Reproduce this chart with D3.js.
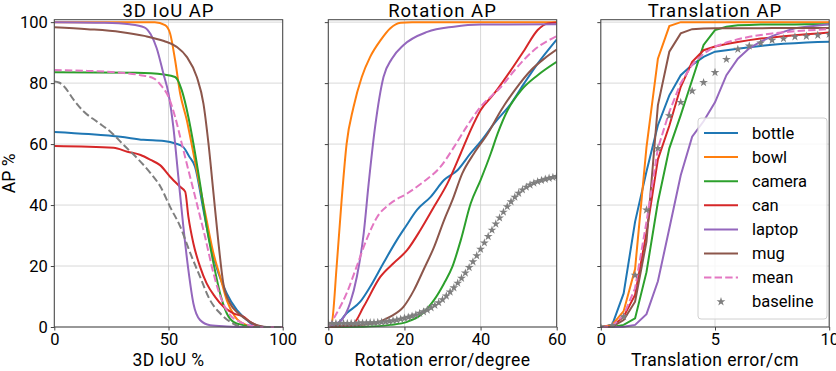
<!DOCTYPE html>
<html>
<head>
<meta charset="utf-8">
<script src="https://cdn.jsdelivr.net/npm/d3@7"></script>
<style>
  body { margin: 0; background: #fff; }
  text { font-family: Roboto, "DejaVu Sans", sans-serif; fill: #000; }
</style>
</head>
<body>
<script>
// ---- data ----
const categories = ['bottle', 'bowl', 'camera', 'can', 'laptop', 'mug', 'mean', 'baseline']
const colors = ['#1f77b4', '#ff7f0e', '#2ca02c', '#d62728', '#9467bd', '#8c564b', '#e377c2', '#7f7f7f']

const yTicks = [0, 20, 40, 60, 80, 100]
const iouTicks = [0, 50, 100]
const rotTicks = [0, 20, 40, 60]
const transTicks = [0, 5, 10]

// 3D IoU AP, [iou %, AP %]
const iouBottle = [[0,64],[15,63.3],[29,62.4],[39,61.4],[48,61],[53,60.2],[56.5,59],[59,56],[61.6,52.6],[65.3,38.4],[68.2,27.4],[71.9,17.6],[75.5,11],[79.9,5.6],[84.3,2.3],[87.2,0.6],[92,0],[100,0]]
const iouBowl = [[0,100],[44,100],[48.5,99],[50.7,96.3],[52.9,87.5],[55.1,76.6],[58,67.9],[60.9,57],[63.8,46],[66.7,35],[69.7,24.1],[72.6,16.5],[75.5,8.8],[79.1,3.4],[84.3,0.6],[88.6,0.1],[92,0],[100,0]]
const iouCamera = [[0,83.6],[36,83.4],[48,82.8],[52.9,82],[55.8,77.7],[58.7,68.9],[60.9,60.2],[63.8,47.1],[66.7,32.9],[69.7,20.9],[72.6,11],[75.5,4.5],[78.4,1.7],[82.8,0.6],[87,0],[100,0]]
const iouCan = [[0,59.4],[26,58.8],[32,57.5],[37.8,56.4],[42.2,54.8],[46.3,53.1],[50.7,49.3],[55.1,46],[57.3,44.4],[58.7,36.2],[60.9,27.4],[63.8,19.8],[66.7,14.3],[70.4,9.9],[74,6.7],[78.4,4.5],[82.8,3.4],[85.7,1.7],[88.6,0.6],[91.6,0],[100,0]]
const iouLaptop = [[0,100],[22,99.8],[33,99.3],[39.4,98.3],[42.2,96],[44.8,91.5],[47.8,83],[50,76.6],[52.1,65.7],[54.3,49.3],[56.5,32.9],[58.7,18.7],[60.9,7.7],[63.8,2.3],[68.2,0.6],[75.5,0.2],[85,0],[100,0]]
const iouMug = [[0,98.3],[14.5,97.7],[29,96.8],[39.4,95.5],[48,93.8],[53.6,91.9],[58,88.6],[62.4,82],[65.3,73.3],[67.5,60.2],[69.7,43.8],[71.9,27.4],[74,14.3],[77,7.7],[80.6,4.5],[85.7,1.7],[90.1,0.3],[93,0],[100,0]]
const iouMean = [[0,84.3],[14.5,84],[29,83.4],[37.8,82.6],[43.7,81.5],[47,79],[50,75.5],[52.9,68.9],[55.8,60.2],[58.7,51.5],[62.4,40.5],[66,29.6],[69.7,17.6],[73.3,8.8],[77,3.9],[81.3,1.7],[87.2,0.3],[91,0],[100,0]]
const iouBaseline = [[0,80.5],[2,80.2],[4.2,79],[8.6,74.4],[13,70.6],[18.8,67.3],[24.7,64],[30.5,59.6],[36.4,55.3],[42.2,50.4],[46.5,46],[50.7,39.4],[55.1,33],[59.4,24.5],[63.8,16.5],[68.2,8.8],[72.6,4.5],[77,1.7],[80.6,0.3],[84,0],[100,0]]

// Rotation AP, [degree, AP %]
const rotBottle = [[0,0],[2,0.6],[4.8,4.5],[8.4,8.3],[11,13.2],[14.5,21],[18,28.5],[20.3,32.9],[23.3,38.4],[26.9,42.7],[30.4,48.2],[34,51.5],[37.4,57],[40,60.8],[43.6,66.8],[48,73.3],[51.5,80],[55,86.4],[60,94.3]]
const rotBowl = [[0,0],[0.9,1.2],[2.2,20],[3.5,41.6],[4.8,60],[6.6,72],[8.8,82],[11,88.6],[13.7,94],[16.3,98],[19,99.8],[22,100],[60,100]]
const rotCamera = [[0,0],[9.3,0.1],[16.3,0.7],[20.7,1.7],[24.2,3.9],[27.8,8.9],[30.4,14.3],[32.6,19.8],[34.8,28.5],[37.4,40.5],[40,48.2],[42.7,57],[44.5,63.5],[47.1,71.1],[50.7,77.7],[55,82.6],[60,87]]
const rotCan = [[0,0],[3,0.3],[6.6,1.2],[9.3,6.7],[13.7,16.5],[17.2,21],[20.7,25.2],[24.2,31.8],[27.8,39.5],[31.3,47.1],[34.8,57],[37.4,64.6],[40,71.1],[43.6,76.6],[48,84.3],[51.5,90.8],[55,97.4],[57.7,99.6],[60,99.9]]
const rotLaptop = [[0,0],[1.3,0.7],[3.5,2.3],[5.7,7.8],[7.5,16.5],[9.3,30.7],[10.6,47],[12.3,65.7],[14.5,82],[16.7,88],[19.8,92.5],[26,96.8],[33,98.5],[40,99.2],[60,99.3]]
const rotMug = [[0,0],[4.8,0.3],[11.9,1.2],[16.3,3.4],[19.8,6.7],[22.5,12.1],[25,18.7],[27.8,26.3],[30.4,35],[32.6,41.6],[35.2,50.4],[38.3,57],[41.9,63.5],[45.4,71.1],[49,77.7],[53.3,84.3],[56.8,88.1],[60,91]]
const rotMean = [[0,0],[0.4,0.7],[2.2,4.5],[4.8,11],[7.5,20],[10,28.5],[12.8,36],[16.3,40.5],[20.7,43.8],[25,47.6],[29.5,52.6],[33,59],[36.6,66.2],[40,72.2],[45.4,78.8],[49,84.3],[54,90.8],[60,95.4]]
// baseline is sampled every degree (star markers)
const rotBaselineX = d3.range(0, 61)
const rotBaseline = [1.2,1.2,1.2,1.2,1.2,1.2,1.2,1.2,1.3,1.3,1.3,1.4,1.4,1.5,1.6,1.7,1.9,2.1,2.3,2.6,2.9,3.2,3.6,4.0,4.5,5.0,5.6,6.3,7.1,8.0,
  9.0,10.2,11.5,12.9,14.4,16.0,17.7,19.5,21.4,23.4,25.5,27.6,29.7,31.8,33.8,35.8,37.7,39.5,41.1,42.6,43.9,45.0,45.9,46.6,47.2,47.7,48.1,48.5,48.8,49.1,49.4]

// Translation AP, sampled every 0.5 cm
const transX = [0,0.5,1,1.5,2,2.5,3,3.5,4,4.5,5,5.5,6,6.5,7,7.5,8,8.5,9,9.5,10]
const transBottle = [0,0.7,11,34.5,51,66.2,76,82.6,86,88.6,90.3,90.8,91.3,91.8,92.2,92.6,92.9,93.1,93.3,93.5,93.6]
const transBowl = [0,0.7,5.2,19,59,88,98.7,100,100,100,100,100,100,100,100,100,100,100,100,100,100]
const transCamera = [0,0,0.7,2.8,18,41,58.6,69.5,81,92.5,97.4,98.5,99,99.1,99.2,99.2,99.2,99.2,99.3,99.3,99.3]
const transCan = [0,0.2,3.4,10.5,31,55,66,78.8,87,90.8,92,92.8,93.5,94.1,94.6,95,95.4,95.7,96,96.3,96.6]
const transLaptop = [0,0,0.1,0.7,4.2,15,32.3,49.8,62.4,67.5,73.7,82.6,88,91.4,93.6,95.4,96.8,98,98.5,98.9,99.3]
const transMug = [0,0.1,2.3,8.3,28,72.8,90.3,96.3,97.7,97.9,98,98,98,98,98,98.1,98.1,98.1,98.1,98.1,98.1]
const transMean = [0,0.3,3.9,12.7,34.5,58.6,70.6,80,86,89.7,92,93.3,94.4,95.2,95.8,96.3,96.7,97,97.3,97.5,97.7]
const transBaseline = [0,0.5,3.4,17,38.4,58.6,69.3,73.7,77.4,80.2,83.5,87.8,91.1,92.2,93.2,94.1,94.6,95.2,95.4,95.7,96]

// ---- layout ----
const W = 836, H = 371
const plotTop = 19.7, plotBottom = 327
const panelW = 228.4
const panelLeft = [54.3, 328.3, 600.8]

const svg = d3.select('body').append('svg')
  .attr('width', W)
  .attr('height', H)

const y = d3.scaleLinear().domain([0, 100.8]).range([plotBottom, plotTop])

const zip = (xs, ys) => xs.map((x, i) => [x, ys[i]])

const panels = [
  {
    title: '3D IoU AP', xlabel: '3D IoU %', domain: [0, 100], ticks: iouTicks, yLabels: true,
    curve: d3.curveMonotoneX,
    series: [iouBottle, iouBowl, iouCamera, iouCan, iouLaptop, iouMug, iouMean, iouBaseline],
    baselineStyle: 'dash'
  },
  {
    title: 'Rotation AP', xlabel: 'Rotation error/degree', domain: [0, 60], ticks: rotTicks, yLabels: false,
    curve: d3.curveMonotoneX,
    series: [rotBottle, rotBowl, rotCamera, rotCan, rotLaptop, rotMug, rotMean, zip(rotBaselineX, rotBaseline)],
    baselineStyle: 'star'
  },
  {
    title: 'Translation AP', xlabel: 'Translation error/cm', domain: [0, 10], ticks: transTicks, yLabels: false,
    curve: d3.curveLinear,
    series: [transBottle, transBowl, transCamera, transCan, transLaptop, transMug, transMean, transBaseline].map(s => zip(transX, s)),
    baselineStyle: 'star', legend: true
  }
]

const star = d3.symbol().type(d3.symbolStar).size(24)

panels.forEach((p, pi) => {
  let x0 = panelLeft[pi]
  let x = d3.scaleLinear().domain(p.domain).range([x0, x0 + panelW])
  let g = svg.append('g')

  // grid
  g.selectAll('.gx').data(p.ticks).join('line')
    .attr('x1', d => x(d)).attr('x2', d => x(d))
    .attr('y1', plotTop).attr('y2', plotBottom)
    .attr('stroke', '#cfcfcf').attr('stroke-width', 0.8)
  g.selectAll('.gy').data(yTicks).join('line')
    .attr('x1', x0).attr('x2', x0 + panelW)
    .attr('y1', d => y(d)).attr('y2', d => y(d))
    .attr('stroke', '#cfcfcf').attr('stroke-width', 0.8)

  let clipId = 'clip' + pi
  svg.append('clipPath').attr('id', clipId).append('rect')
    .attr('x', x0).attr('y', plotTop - 1).attr('width', panelW).attr('height', plotBottom - plotTop + 2)

  let plot = g.append('g').attr('clip-path', `url(#${clipId})`)
  let line = d3.line().x(d => x(d[0])).y(d => y(d[1])).curve(p.curve)

  p.series.forEach((s, si) => {
    let isBase = si === 7
    if (isBase && p.baselineStyle === 'star') {
      plot.selectAll('.star' + si).data(s).join('path')
        .attr('d', star)
        .attr('transform', d => `translate(${x(d[0])},${y(d[1])})`)
        .attr('fill', colors[7])
      return
    }
    plot.append('path')
      .attr('d', line(s))
      .attr('fill', 'none')
      .attr('stroke', colors[si])
      .attr('stroke-width', 2)
      .attr('stroke-dasharray', (si === 6 || isBase) ? '7.4,3.2' : null)
  })

  // axes
  let xAxis = d3.axisBottom(x).tickValues(p.ticks).tickSize(3.5).tickPadding(3)
  let yAxis = d3.axisLeft(y).tickValues(yTicks).tickSize(3.5).tickPadding(3)
  if (!p.yLabels) yAxis.tickFormat('')

  let ax = g.append('g').attr('transform', `translate(0,${plotBottom})`).call(xAxis)
  let ay = g.append('g').attr('transform', `translate(${x0},0)`).call(yAxis)
  for (let a of [ax, ay]) {
    a.select('.domain').remove()
    a.selectAll('line').attr('stroke', '#444')
    a.selectAll('text').style('font-size', '16.5px').attr('fill', '#000')
  }

  g.append('rect')
    .attr('x', x0).attr('y', plotTop).attr('width', panelW).attr('height', plotBottom - plotTop)
    .attr('fill', 'none').attr('stroke', '#444').attr('stroke-width', 1)

  g.append('text')
    .attr('x', x0 + panelW / 2).attr('y', 17)
    .attr('text-anchor', 'middle')
    .style('font-size', '18.5px')
    .style('letter-spacing', '1px')
    .text(p.title)

  g.append('text')
    .attr('x', x0 + panelW / 2).attr('y', 366)
    .attr('text-anchor', 'middle')
    .style('font-size', '17.5px')
    .style('letter-spacing', '0.4px')
    .text(p.xlabel)

  if (p.legend) {
    let lx = 698, ly = 118
    let lg = g.append('g')
    lg.append('rect')
      .attr('x', lx).attr('y', ly).attr('width', 129).attr('height', 201).attr('rx', 3)
      .attr('fill', 'white').attr('fill-opacity', 0.8)
      .attr('stroke', '#d0d0d0').attr('stroke-width', 1)
    categories.forEach((c, i) => {
      let cy = 133 + i * 24.1
      if (i === 7) {
        lg.append('path').attr('d', star).attr('transform', `translate(${721},${cy})`).attr('fill', colors[7])
      } else {
        lg.append('line')
          .attr('x1', 704).attr('x2', 738).attr('y1', cy).attr('y2', cy)
          .attr('stroke', colors[i]).attr('stroke-width', 2)
          .attr('stroke-dasharray', i === 6 ? '7.4,3.2' : null)
      }
      lg.append('text')
        .attr('x', 752).attr('y', cy).attr('dy', '0.35em')
        .style('font-size', '16.5px')
        .text(c)
    })
  }
})

svg.append('text')
  .attr('transform', `translate(15,${(plotTop + plotBottom) / 2}) rotate(-90)`)
  .attr('text-anchor', 'middle')
  .style('font-size', '17.5px')
  .text('AP %')
</script>
</body>
</html>
